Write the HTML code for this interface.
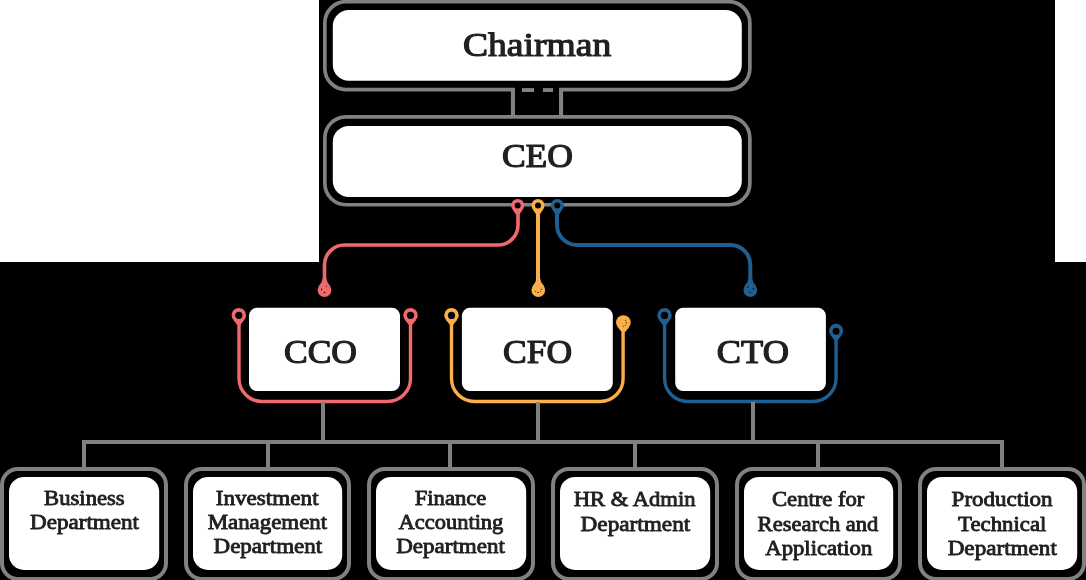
<!DOCTYPE html>
<html><head><meta charset="utf-8"><style>
html,body{margin:0;padding:0;background:#000;}
svg{display:block;will-change:transform;}
text{font-family:"Liberation Serif",serif;font-weight:normal;fill:#231f20;stroke:#231f20;stroke-linejoin:round;}
</style></head><body>
<svg width="1086" height="580" viewBox="0 0 1086 580">
<rect x="0" y="0" width="1086" height="580" fill="#000"/>
<rect x="0" y="0" width="319" height="262" fill="#fff"/>
<rect x="1055" y="0" width="31" height="262" fill="#fff"/>
<rect x="324.85" y="1.65" width="425.00" height="87.90" rx="21.15" fill="none" stroke="#808280" stroke-width="3.7"/>
<rect x="332.80" y="10.00" width="409.00" height="70.70" rx="16.00" fill="#fff"/>
<rect x="515" y="86" width="44" height="8" fill="#000"/>
<rect x="510.9" y="88.1" width="4.1" height="29.5" fill="#808280"/>
<rect x="559" y="88.1" width="4.1" height="29.5" fill="#808280"/>
<rect x="522" y="88.1" width="12" height="3.9" fill="#808280"/>
<rect x="542.9" y="88.1" width="10.1" height="3.9" fill="#808280"/>
<rect x="324.85" y="116.85" width="425.00" height="87.90" rx="21.15" fill="none" stroke="#808280" stroke-width="3.7"/>
<rect x="332.80" y="125.90" width="409.00" height="71.10" rx="16.00" fill="#fff"/>
<path d="M518,210 L518,225 A20,20 0 0 1 498,245 L344.5,245 A20,20 0 0 0 324.5,265 L324.5,284" fill="none" stroke="#f0696e" stroke-width="3.6" stroke-linecap="butt"/>
<path d="M512.70,209.56 L515.90,214.40 L519.50,214.40 L522.71,209.56 Z" fill="#f0696e"/>
<circle cx="517.7" cy="205.4" r="6.5" fill="#f0696e"/>
<circle cx="517.7" cy="205.4" r="3.0" fill="#000"/>
<path d="M318.98,285.96 Q322.20,282.70 322.80,278.10 L326.20,278.10 Q326.80,282.70 330.02,285.96 Z" fill="#f0696e"/>
<circle cx="324.5" cy="290.1" r="6.9" fill="#f0696e"/>
<path d="M538,210 L538,284" fill="none" stroke="#faaf4b" stroke-width="4.0" stroke-linecap="butt"/>
<path d="M533.00,209.56 L536.20,214.40 L539.80,214.40 L543.00,209.56 Z" fill="#faaf4b"/>
<circle cx="538" cy="205.4" r="6.5" fill="#faaf4b"/>
<circle cx="538" cy="205.4" r="3.0" fill="#000"/>
<path d="M532.78,285.96 Q536.00,282.70 536.60,278.10 L540.00,278.10 Q540.60,282.70 543.82,285.96 Z" fill="#faaf4b"/>
<circle cx="538.3" cy="290.1" r="6.9" fill="#faaf4b"/>
<path d="M557,210 L557,225 A20,20 0 0 0 577,245 L730.3,245 A20,20 0 0 1 750.3,265 L750.3,284" fill="none" stroke="#1f5f91" stroke-width="4.0" stroke-linecap="butt"/>
<path d="M552.29,209.56 L555.50,214.40 L559.10,214.40 L562.30,209.56 Z" fill="#1f5f91"/>
<circle cx="557.3" cy="205.4" r="6.5" fill="#1f5f91"/>
<circle cx="557.3" cy="205.4" r="3.0" fill="#000"/>
<path d="M744.78,285.96 Q748.00,282.70 748.60,278.10 L752.00,278.10 Q752.60,282.70 755.82,285.96 Z" fill="#1f5f91"/>
<circle cx="750.3" cy="290.1" r="6.9" fill="#1f5f91"/>
<ellipse cx="326.5" cy="286.5" rx="0.55" ry="0.55" transform="rotate(0 326.5 286.5)" fill="#000" opacity="0.85"/>
<ellipse cx="321.6" cy="289.4" rx="0.5" ry="1.2" transform="rotate(0 321.6 289.4)" fill="#000" opacity="0.85"/>
<ellipse cx="324.5" cy="292.5" rx="1.2" ry="0.5" transform="rotate(0 324.5 292.5)" fill="#000" opacity="0.85"/>
<ellipse cx="541.4" cy="289.2" rx="0.5" ry="0.6" transform="rotate(0 541.4 289.2)" fill="#000" opacity="0.85"/>
<ellipse cx="535.4" cy="291.3" rx="0.55" ry="0.55" transform="rotate(0 535.4 291.3)" fill="#000" opacity="0.85"/>
<ellipse cx="540.6" cy="291.3" rx="0.55" ry="0.55" transform="rotate(0 540.6 291.3)" fill="#000" opacity="0.85"/>
<ellipse cx="538" cy="292.4" rx="1.0" ry="0.5" transform="rotate(0 538 292.4)" fill="#000" opacity="0.85"/>
<ellipse cx="747.9" cy="287.0" rx="1.2" ry="0.5" transform="rotate(-45 747.9 287.0)" fill="#000" opacity="0.85"/>
<ellipse cx="753.4" cy="289.0" rx="0.55" ry="1.1" transform="rotate(0 753.4 289.0)" fill="#000" opacity="0.85"/>
<ellipse cx="750.0" cy="292.3" rx="1.1" ry="0.5" transform="rotate(0 750.0 292.3)" fill="#000" opacity="0.85"/>
<rect x="249.00" y="307.80" width="151.00" height="83.20" rx="8.00" fill="#fff"/>
<rect x="461.90" y="307.80" width="150.90" height="83.20" rx="8.00" fill="#fff"/>
<rect x="675.20" y="307.80" width="150.70" height="83.20" rx="8.00" fill="#fff"/>
<path d="M239,320 L239,378.5 A23,23 0 0 0 262,401.5 L387.5,401.5 A23,23 0 0 0 410.5,378.5 L410.5,320" fill="none" stroke="#f0696e" stroke-width="3.4" stroke-linecap="butt"/>
<path d="M233.26,319.81 L237.00,324.70 L240.60,324.70 L244.34,319.81 Z" fill="#f0696e"/>
<circle cx="238.8" cy="315.2" r="7.2" fill="#f0696e"/>
<circle cx="238.8" cy="315.3" r="3.6" fill="#000"/>
<path d="M404.96,319.81 L408.70,324.70 L412.30,324.70 L416.04,319.81 Z" fill="#f0696e"/>
<circle cx="410.5" cy="315.2" r="7.2" fill="#f0696e"/>
<circle cx="410.5" cy="315.3" r="3.6" fill="#000"/>
<path d="M451.5,320 L451.5,378.5 A23,23 0 0 0 474.5,401.5 L600.1,401.5 A23,23 0 0 0 623.1,378.5 L623.1,328" fill="none" stroke="#faaf4b" stroke-width="3.4" stroke-linecap="butt"/>
<path d="M445.96,319.81 L449.70,324.70 L453.30,324.70 L457.04,319.81 Z" fill="#faaf4b"/>
<circle cx="451.5" cy="315.2" r="7.2" fill="#faaf4b"/>
<circle cx="451.5" cy="315.4" r="3.6" fill="#000"/>
<path d="M617.78,327.17 L621.60,332.00 L625.20,332.00 L629.02,327.17 Z" fill="#faaf4b"/>
<circle cx="623.4" cy="322.5" r="7.3" fill="#faaf4b"/>
<ellipse cx="625.5" cy="320.5" rx="0.5" ry="0.5" transform="rotate(0 625.5 320.5)" fill="#000" opacity="0.85"/>
<ellipse cx="626.3" cy="322.7" rx="0.5" ry="1.0" transform="rotate(0 626.3 322.7)" fill="#000" opacity="0.85"/>
<ellipse cx="625.4" cy="325.2" rx="0.5" ry="0.5" transform="rotate(0 625.4 325.2)" fill="#000" opacity="0.85"/>
<ellipse cx="623.4" cy="326.3" rx="0.5" ry="0.5" transform="rotate(0 623.4 326.3)" fill="#000" opacity="0.85"/>
<path d="M664.6,320 L664.6,378.5 A23,23 0 0 0 687.6,401.5 L813.05,401.5 A23,23 0 0 0 836.05,378.5 L836.05,336" fill="none" stroke="#1f5f91" stroke-width="3.4" stroke-linecap="butt"/>
<path d="M658.96,319.81 L662.70,324.70 L666.30,324.70 L670.04,319.81 Z" fill="#1f5f91"/>
<circle cx="664.5" cy="315.2" r="7.2" fill="#1f5f91"/>
<circle cx="664.5" cy="315.4" r="3.6" fill="#000"/>
<path d="M830.71,335.28 L834.30,340.30 L837.90,340.30 L841.49,335.28 Z" fill="#1f5f91"/>
<circle cx="836.1" cy="330.8" r="7.0" fill="#1f5f91"/>
<circle cx="836.1" cy="331.3" r="3.5" fill="#000"/>
<rect x="321.00" y="402" width="4" height="42" fill="#808280"/>
<rect x="536.00" y="402" width="4" height="42" fill="#808280"/>
<rect x="751.00" y="402" width="4" height="42" fill="#808280"/>
<rect x="82" y="440" width="922" height="4" fill="#808280"/>
<rect x="82.00" y="440" width="4" height="30" fill="#808280"/>
<rect x="266.00" y="440" width="4" height="30" fill="#808280"/>
<rect x="448.00" y="440" width="4" height="30" fill="#808280"/>
<rect x="633.00" y="440" width="4" height="30" fill="#808280"/>
<rect x="816.00" y="440" width="4" height="30" fill="#808280"/>
<rect x="1000.00" y="440" width="4" height="30" fill="#808280"/>
<rect x="2" y="469" width="164" height="110" rx="16" fill="none" stroke="#808280" stroke-width="4"/>
<rect x="9.00" y="476.90" width="150.20" height="93.10" rx="15.00" fill="#fff"/>
<rect x="186" y="469" width="163" height="110" rx="16" fill="none" stroke="#808280" stroke-width="4"/>
<rect x="193.00" y="476.90" width="149.20" height="93.10" rx="15.00" fill="#fff"/>
<rect x="369" y="469" width="164" height="110" rx="16" fill="none" stroke="#808280" stroke-width="4"/>
<rect x="376.00" y="476.90" width="150.20" height="93.10" rx="15.00" fill="#fff"/>
<rect x="553" y="469" width="164" height="110" rx="16" fill="none" stroke="#808280" stroke-width="4"/>
<rect x="560.00" y="476.90" width="150.20" height="93.10" rx="15.00" fill="#fff"/>
<rect x="737" y="469" width="163" height="110" rx="16" fill="none" stroke="#808280" stroke-width="4"/>
<rect x="744.00" y="476.90" width="149.20" height="93.10" rx="15.00" fill="#fff"/>
<rect x="920" y="469" width="164" height="110" rx="16" fill="none" stroke="#808280" stroke-width="4"/>
<rect x="927.00" y="476.90" width="150.20" height="93.10" rx="15.00" fill="#fff"/>
<text x="537.09" y="55.80" font-size="34" stroke-width="1.2" text-anchor="middle" textLength="148.18" lengthAdjust="spacingAndGlyphs">Chairman</text>
<text x="537.45" y="167.40" font-size="34" stroke-width="1.2" text-anchor="middle" textLength="71.15" lengthAdjust="spacingAndGlyphs">CEO</text>
<text x="320.51" y="362.80" font-size="34" stroke-width="1.2" text-anchor="middle" textLength="73.07" lengthAdjust="spacingAndGlyphs">CCO</text>
<text x="537.51" y="362.80" font-size="34" stroke-width="1.2" text-anchor="middle" textLength="69.06" lengthAdjust="spacingAndGlyphs">CFO</text>
<text x="752.91" y="362.80" font-size="34" stroke-width="1.2" text-anchor="middle" textLength="72.04" lengthAdjust="spacingAndGlyphs">CTO</text>
<text x="84.38" y="505.10" font-size="20.5" stroke-width="0.85" text-anchor="middle" textLength="80.48" lengthAdjust="spacingAndGlyphs">Business</text>
<text x="84.49" y="529.10" font-size="20.5" stroke-width="0.85" text-anchor="middle" textLength="108.99" lengthAdjust="spacingAndGlyphs">Department</text>
<text x="267.16" y="504.60" font-size="20.5" stroke-width="0.85" text-anchor="middle" textLength="102.84" lengthAdjust="spacingAndGlyphs">Investment</text>
<text x="267.41" y="528.70" font-size="20.5" stroke-width="0.85" text-anchor="middle" textLength="119.42" lengthAdjust="spacingAndGlyphs">Management</text>
<text x="267.85" y="552.60" font-size="20.5" stroke-width="0.85" text-anchor="middle" textLength="108.70" lengthAdjust="spacingAndGlyphs">Department</text>
<text x="450.56" y="504.60" font-size="20.5" stroke-width="0.85" text-anchor="middle" textLength="71.66" lengthAdjust="spacingAndGlyphs">Finance</text>
<text x="450.93" y="528.70" font-size="20.5" stroke-width="0.85" text-anchor="middle" textLength="104.88" lengthAdjust="spacingAndGlyphs">Accounting</text>
<text x="450.51" y="552.60" font-size="20.5" stroke-width="0.85" text-anchor="middle" textLength="108.70" lengthAdjust="spacingAndGlyphs">Department</text>
<text x="634.63" y="506.10" font-size="20.5" stroke-width="0.85" text-anchor="middle" textLength="121.84" lengthAdjust="spacingAndGlyphs">HR &amp; Admin</text>
<text x="635.40" y="530.60" font-size="20.5" stroke-width="0.85" text-anchor="middle" textLength="109.62" lengthAdjust="spacingAndGlyphs">Department</text>
<text x="818.21" y="506.10" font-size="20.5" stroke-width="0.85" text-anchor="middle" textLength="92.40" lengthAdjust="spacingAndGlyphs">Centre for</text>
<text x="818.01" y="530.60" font-size="20.5" stroke-width="0.85" text-anchor="middle" textLength="120.81" lengthAdjust="spacingAndGlyphs">Research and</text>
<text x="818.81" y="554.80" font-size="20.5" stroke-width="0.85" text-anchor="middle" textLength="106.93" lengthAdjust="spacingAndGlyphs">Application</text>
<text x="1002.09" y="506.10" font-size="20.5" stroke-width="0.85" text-anchor="middle" textLength="100.98" lengthAdjust="spacingAndGlyphs">Production</text>
<text x="1002.24" y="530.60" font-size="20.5" stroke-width="0.85" text-anchor="middle" textLength="88.31" lengthAdjust="spacingAndGlyphs">Technical</text>
<text x="1002.26" y="554.80" font-size="20.5" stroke-width="0.85" text-anchor="middle" textLength="109.15" lengthAdjust="spacingAndGlyphs">Department</text>
</svg></body></html>
